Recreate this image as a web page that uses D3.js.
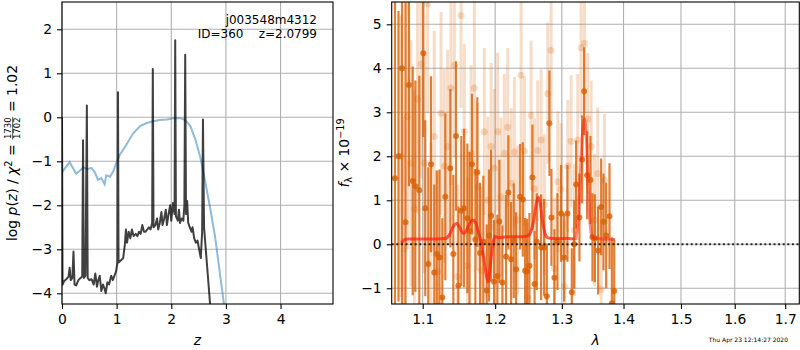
<!DOCTYPE html>
<html lang="en">
<head>
<meta charset="UTF-8">
<title>redshift fit</title>
<script src="https://cdn.jsdelivr.net/npm/d3@7"></script>
<style>
body { margin: 0; background: #fff; }
text { font-family: "DejaVu Sans"; fill: #000; }
</style>
</head>
<body>
<div id="app"></div>
<script>
// ---- left panel: log p(z) ----
var chiZ = [0.00, 0.06, 0.14, 0.20, 0.26, 0.32, 0.39, 0.46, 0.54, 0.60, 0.66, 0.72, 0.78, 0.81, 0.88, 0.94, 0.99, 1.06, 1.18, 1.30, 1.43, 1.55, 1.67, 1.79, 1.92, 2.04, 2.16, 2.25, 2.35, 2.44, 2.53, 2.62, 2.71, 2.80, 2.88, 2.97];
var chiVal = [-1.25, -1.15, -1.02, -1.15, -1.28, -1.22, -1.14, -1.18, -1.15, -1.25, -1.42, -1.38, -1.52, -1.32, -1.35, -1.22, -1.05, -0.85, -0.62, -0.37, -0.2, -0.13, -0.09, -0.06, -0.05, -0.02, -0.02, -0.06, -0.2, -0.5, -0.9, -1.45, -2.05, -2.7, -3.45, -4.3];

var pzZ = [0.00, 0.01, 0.04, 0.08, 0.12, 0.14, 0.16, 0.19, 0.21, 0.23, 0.26, 0.30, 0.34, 0.37, 0.385, 0.40, 0.43, 0.455, 0.47, 0.50,
           0.54, 0.58, 0.61, 0.64, 0.66, 0.69, 0.72, 0.75, 0.78, 0.80, 0.83, 0.86, 0.90, 0.93, 0.96, 0.99, 1.015, 1.025, 1.035, 1.08,
           1.12, 1.15, 1.17, 1.19, 1.22, 1.25, 1.28, 1.31, 1.35, 1.38, 1.41, 1.44, 1.47, 1.50, 1.53, 1.56, 1.59, 1.62, 1.65, 1.662,
           1.675, 1.71, 1.74, 1.76, 1.79, 1.82, 1.84, 1.87, 1.90, 1.92, 1.95, 1.98, 2.00, 2.03, 2.06, 2.072, 2.085, 2.12, 2.14, 2.16,
           2.19, 2.22, 2.24, 2.255, 2.27, 2.29, 2.31, 2.34, 2.37, 2.39, 2.42, 2.45, 2.48, 2.51, 2.54, 2.565, 2.58, 2.60, 2.72];
var pzVal = [0.0, -3.8, -3.72, -3.68, -3.62, -3.42, -3.7, -3.65, -3.05, -3.8, -3.82, -3.7, -3.65, -3.62, -0.52, -3.65, -3.6, 0.27, -3.65, -3.7,
             -3.68, -3.8, -3.55, -3.85, -3.72, -3.6, -3.95, -3.8, -3.9, -4.0, -3.75, -3.8, -3.6, -3.7, -3.6, -3.5, -3.3, 0.57, -3.3, -3.25,
             -3.2, -2.9, -2.55, -2.85, -2.6, -2.75, -2.55, -2.7, -2.65, -2.7, -2.6, -2.65, -2.45, -2.6, -2.6, -2.55, -2.5, -2.55, -2.4, 1.10,
             -2.5, -2.45, -2.3, -2.55, -2.4, -2.15, -2.45, -2.3, -2.1, -2.45, -2.2, -2.0, -2.35, -1.95, -2.2, 1.75, -2.25, -2.35, -2.1, -2.4,
             -2.3, -2.35, -2.0, 1.42, -2.2, -1.9, -2.4, -2.5, -2.6, -2.5, -2.75, -2.85, -2.8, -3.0, -3.2, -2.6, -0.05, -2.5, -4.4];

var zTicks = [0, 1, 2, 3, 4];
var pzTicks = [-4, -3, -2, -1, 0, 1, 2];

// ---- right panel: spectrum ----
// beam A (solid points)
var lamA = [1.0640, 1.0685, 1.0730, 1.0775, 1.0820, 1.0869, 1.0903, 1.0955, 1.1008, 1.1034, 1.1074, 1.1110, 1.1154, 1.1187, 1.1224, 1.1262,
            1.1303, 1.1371, 1.1412, 1.1449, 1.1481, 1.1522, 1.1560, 1.1606, 1.1637, 1.1671, 1.1718, 1.1745, 1.1784, 1.1831, 1.1879, 1.1912,
            1.1941, 1.1984, 1.2032, 1.2061, 1.2105, 1.2158, 1.2192, 1.2232, 1.2271, 1.2305, 1.2365, 1.2405, 1.2439, 1.2469, 1.2504, 1.2549,
            1.2582, 1.2615, 1.2681, 1.2727, 1.2768, 1.2808, 1.2839, 1.2885, 1.2932, 1.2989, 1.3036, 1.3088, 1.3157, 1.3194, 1.3225, 1.3278,
            1.3321, 1.3353, 1.3401, 1.3455, 1.3487, 1.3526, 1.3580, 1.3629, 1.3667, 1.3711, 1.3766, 1.3805, 1.3844];
var fluxA = [1.5, 2.0, 4.0, 0.5, 3.62, 1.44, 1.32, 1.23, 4.34, 0.82, -0.45, 1.82, -0.64, -0.22, -0.30, -1.21,
             1.08, 1.73, -0.22, 2.46, -0.94, 0.76, 0.82, 0.59, 0.30, 1.82, 0.11, 1.64, -0.20, 0.06, -1.05, 0.20,
             0.65, -0.85, -0.72, 0.52, -0.87, -0.28, 1.18, -0.34, 0.08, -0.57, 1.08, 1.02, -0.60, -0.62, -0.49, 1.52,
             -0.90, 0.06, -0.07, -0.07, -1.18, 2.75, 0.61, -0.76, 0.06, 0.70, -0.30, 0.70, -1.09, 0.0, 1.36, 0.61,
             1.93, 3.48, 1.57, 1.46, 0.16, 0.14, -0.14, 0.85, 0.51, 0.20, 0.64, -1.34, -1.06];
var errA = [8.0, 3.3, 6.0, 5.0, 2.3, 2.6, 2.4, 2.6, 1.9, 2.0, 2.2, 2.0, 2.0, 1.9, 2.0, 1.8,
            1.9, 1.8, 1.8, 1.7, 1.8, 1.7, 1.8, 1.7, 1.8, 1.6, 1.6, 1.7, 1.6, 1.5, 1.5, 1.5,
            1.5, 1.4, 1.4, 1.4, 1.3, 1.4, 1.3, 1.3, 1.3, 1.3, 1.2, 1.3, 1.2, 1.2, 1.2, 1.2,
            1.2, 1.1, 1.2, 1.1, 1.2, 1.2, 1.1, 1.1, 1.1, 1.1, 1.0, 1.1, 1.0, 1.0, 1.0, 1.0,
            1.0, 1.0, 1.0, 1.0, 1.0, 1.0, 1.0, 1.1, 1.1, 1.2, 1.2, 1.5, 1.2];
// beam B (faint points)
var lamB = [1.0717, 1.0759, 1.0802, 1.0846, 1.0890, 1.0933, 1.0978, 1.1021, 1.1065, 1.1110, 1.1154, 1.1199, 1.1245, 1.1289, 1.1334, 1.1380,
            1.1426, 1.1471, 1.1518, 1.1564, 1.1610, 1.1657, 1.1704, 1.1750, 1.1798, 1.1845, 1.1892, 1.1941, 1.1988, 1.2036, 1.2085, 1.2134,
            1.2182, 1.2232, 1.2280, 1.2329, 1.2380, 1.2429, 1.2478, 1.2529, 1.2579, 1.2629, 1.2681, 1.2731, 1.2782, 1.2834, 1.2885, 1.2937,
            1.2989, 1.3041, 1.3093, 1.3146, 1.3198, 1.3251, 1.3305, 1.3358, 1.3411, 1.3466, 1.3520, 1.3573, 1.3629, 1.3684];
var fluxB = [2.0, -0.1, 2.9, 1.84, 0.8, 3.3, 4.1, 1.85, 5.47, -0.09, 2.45, -0.62, 2.98, 1.78, 2.22, 3.55,
             4.07, -0.74, 5.2, 2.56, -0.49, 2.07, 3.55, 1.31, -0.6, 2.56, 1.0, 2.22, 1.73, 2.56, 1.08, 2.07,
             2.66, 1.39, 2.1, 0.55, 3.84, 2.12, -1.21, 2.93, 1.26, 2.13, 2.37, 0.9, 3.43, 4.41, -0.55, 1.42,
             1.25, -0.96, 1.78, 2.34, 0.32, 2.37, 4.47, 4.57, 2.85, 2.22, 0.55, 1.61, -1.02, 1.46];
var errB = [3.2, 3.0, 3.0, 2.8, 2.7, 2.6, 2.6, 2.5, 2.5, 2.4, 2.4, 2.3, 2.3, 2.2, 2.2, 2.2,
            2.1, 2.1, 2.1, 2.0, 2.0, 2.0, 2.0, 1.9, 1.9, 1.9, 1.9, 1.9, 1.8, 1.8, 1.8, 1.8,
            1.8, 1.7, 1.7, 1.7, 1.7, 1.7, 1.7, 1.7, 1.6, 1.6, 1.6, 1.6, 1.6, 1.6, 1.6, 1.6,
            1.5, 1.5, 1.5, 1.5, 1.5, 1.5, 1.6, 1.6, 1.5, 1.5, 1.5, 1.5, 1.5, 1.5];
// model
var modelLam1 = [1.072, 1.076, 1.080, 1.090, 1.100, 1.110, 1.120, 1.130, 1.136, 1.141, 1.146, 1.150, 1.155, 1.158, 1.163, 1.168, 1.172, 1.176,
                 1.180, 1.184, 1.188, 1.190, 1.193, 1.196, 1.200, 1.205, 1.210, 1.220, 1.230, 1.240, 1.248, 1.253, 1.257, 1.261, 1.264,
                 1.267, 1.270, 1.274, 1.278, 1.285, 1.300, 1.310, 1.320];
var modelFlux1 = [0.03, 0.10, 0.12, 0.12, 0.12, 0.12, 0.12, 0.13, 0.22, 0.40, 0.47, 0.38, 0.25, 0.28, 0.45, 0.55, 0.50, 0.28,
                  0.05, -0.35, -0.75, -0.85, -0.50, -0.05, 0.18, 0.15, 0.16, 0.17, 0.17, 0.17, 0.19, 0.30, 0.55, 0.95, 1.07,
                  0.90, 0.55, 0.25, 0.15, 0.13, 0.13, 0.13, 0.12];
var modelLam2 = [1.322, 1.326, 1.330, 1.333, 1.336, 1.339, 1.342, 1.345, 1.348, 1.355, 1.365, 1.375, 1.384];
var modelFlux2 = [0.10, 0.60, 1.80, 2.60, 2.85, 2.40, 1.30, 0.45, 0.18, 0.13, 0.12, 0.12, 0.10];

var lamTicks = [1.1, 1.2, 1.3, 1.4, 1.5, 1.6, 1.7];
var fluxTicks = [-1, 0, 1, 2, 3, 4, 5];

var width = 800;
var height = 350;
var orange = "#d95f02";

var svg = d3.select("#app")
    .append("svg")
    .attr("width", width)
    .attr("height", height);

var boxL = { left: 62, right: 333, top: 2, bottom: 304 };
var boxR = { left: 391.7, right: 799.3, top: 2, bottom: 304 };

var xL = d3.scaleLinear().domain([0, 4.96]).range([boxL.left, boxL.right]);
var yL = d3.scaleLinear().domain([-4.243, 2.62]).range([boxL.bottom, boxL.top]);
var xR = d3.scaleLog().domain([1.0598, 1.729]).range([boxR.left, boxR.right]);
var yR = d3.scaleLinear().domain([-1.357, 5.507]).range([boxR.bottom, boxR.top]);

function clip(id, b) {
    svg.append("clipPath").attr("id", id)
        .append("rect")
        .attr("x", b.left).attr("y", b.top)
        .attr("width", b.right - b.left).attr("height", b.bottom - b.top);
}
clip("clipL", boxL);
clip("clipR", boxR);

function grid(b, x, y, xt, yt) {
    var g = svg.append("g").attr("stroke", "#b0b0b0").attr("stroke-width", 1.1);
    g.selectAll(".gx").data(xt).enter().append("line")
        .attr("x1", function (d) { return x(d); }).attr("x2", function (d) { return x(d); })
        .attr("y1", b.top).attr("y2", b.bottom);
    g.selectAll(".gy").data(yt).enter().append("line")
        .attr("y1", function (d) { return y(d); }).attr("y2", function (d) { return y(d); })
        .attr("x1", b.left).attr("x2", b.right);
}

function axes(b, x, y, xt, yt, xfmt, yfmt) {
    var ax = svg.append("g").attr("transform", "translate(0," + b.bottom + ")")
        .call(d3.axisBottom(x).tickValues(xt).tickFormat(xfmt).tickSize(5).tickPadding(5));
    var ay = svg.append("g").attr("transform", "translate(" + b.left + ",0)")
        .call(d3.axisLeft(y).tickValues(yt).tickFormat(yfmt).tickSize(5).tickPadding(5));
    [ax, ay].forEach(function (a) {
        a.select(".domain").remove();
        a.selectAll("text").style("font-size", "13.9px").style("font-family", "DejaVu Sans");
        a.selectAll("line").attr("stroke-width", 1.1);
    });
    svg.append("rect")
        .attr("x", b.left).attr("y", b.top)
        .attr("width", b.right - b.left).attr("height", b.bottom - b.top)
        .attr("fill", "none").attr("stroke", "#000").attr("stroke-width", 1.1);
}

var intFmt = d3.format("d");
var minusFmt = function (d) { return d < 0 ? "\u2212" + Math.abs(d) : "" + d; };

// ---- left panel ----
grid(boxL, xL, yL, zTicks, pzTicks);
var gL = svg.append("g").attr("clip-path", "url(#clipL)");

var lineL = d3.line()
    .x(function (d) { return xL(d[0]); })
    .y(function (d) { return yL(d[1]); });

gL.append("path")
    .datum(d3.zip(chiZ, chiVal))
    .attr("d", lineL)
    .attr("fill", "none")
    .attr("stroke", "#1f77b4").attr("stroke-opacity", 0.5)
    .attr("stroke-width", 2);

gL.append("path")
    .datum(d3.zip(pzZ, pzVal))
    .attr("d", lineL)
    .attr("fill", "none")
    .attr("stroke", "#000").attr("stroke-opacity", 0.75)
    .attr("stroke-width", 2)
    .attr("stroke-linejoin", "round");

axes(boxL, xL, yL, zTicks, pzTicks, intFmt, minusFmt);

svg.append("text").attr("x", 317).attr("y", 24).attr("text-anchor", "end")
    .style("font-size", "12px").text("j003548m4312");
svg.append("text").attr("x", 317).attr("y", 38).attr("text-anchor", "end")
    .style("font-size", "12px").style("white-space", "pre").text("ID=360    z=2.0799");

// ---- right panel ----
grid(boxR, xR, yR, lamTicks, fluxTicks);
var gR = svg.append("g").attr("clip-path", "url(#clipR)");

function spectrum(lam, flux, err, alpha, lw, r) {
    var pts = d3.zip(lam, flux, err);
    var g = gR.append("g");
    g.selectAll("line").data(pts).enter().append("line")
        .attr("x1", function (d) { return xR(d[0]); })
        .attr("x2", function (d) { return xR(d[0]); })
        .attr("y1", function (d) { return yR(d[1] - d[2]); })
        .attr("y2", function (d) { return yR(d[1] + d[2]); })
        .attr("stroke", orange).attr("stroke-opacity", alpha)
        .attr("stroke-width", lw);
    g.selectAll("circle").data(pts).enter().append("circle")
        .attr("cx", function (d) { return xR(d[0]); })
        .attr("cy", function (d) { return yR(d[1]); })
        .attr("r", r)
        .attr("fill", orange).attr("fill-opacity", alpha);
}
spectrum(lamB, fluxB, errB, 0.22, 3, 3.5);
spectrum(lamA, fluxA, errA, 0.8, 2.2, 3);

var lineR = d3.line()
    .curve(d3.curveMonotoneX)
    .x(function (d) { return xR(d[0]); })
    .y(function (d) { return yR(d[1]); });

gR.append("path").datum(d3.zip(modelLam1, modelFlux1)).attr("d", lineR)
    .attr("fill", "none").attr("stroke", "#ff1a0a").attr("stroke-opacity", 0.7)
    .attr("stroke-width", 3);
gR.append("path").datum(d3.zip(modelLam2, modelFlux2)).attr("d", lineR)
    .attr("fill", "none").attr("stroke", "#ff1a0a").attr("stroke-opacity", 0.5)
    .attr("stroke-width", 3);

gR.append("line")
    .attr("x1", boxR.left).attr("x2", boxR.right)
    .attr("y1", yR(0)).attr("y2", yR(0))
    .attr("stroke", "#000").attr("stroke-opacity", 0.8)
    .attr("stroke-width", 2).attr("stroke-dasharray", "2,2.6");

axes(boxR, xR, yR, lamTicks, fluxTicks, d3.format(".1f"), minusFmt);

// ---- axis labels ----
svg.append("text").attr("x", (boxL.left + boxL.right) / 2).attr("y", 345)
    .attr("text-anchor", "middle").style("font-size", "13.9px").style("font-style", "italic").text("z");
svg.append("text").attr("x", (boxR.left + boxR.right) / 2).attr("y", 345)
    .attr("text-anchor", "middle").style("font-size", "13.9px").style("font-style", "italic").text("\u03bb");

function mathLabel(cx, cy, runs) {
    var g = svg.append("g");
    var x = 0;
    runs.forEach(function (r) {
        if (r.frac) {
            var n = g.append("text").attr("y", -5.8).style("font-size", "8.5px").text(r.frac[0]);
            var d = g.append("text").attr("y", 2.8).style("font-size", "8.5px").text(r.frac[1]);
            var wn = n.node().getComputedTextLength();
            var wd = d.node().getComputedTextLength();
            var w = Math.max(wn, wd);
            n.attr("x", x + 1 + (w - wn) / 2);
            d.attr("x", x + 1 + (w - wd) / 2);
            g.append("line").attr("x1", x + 0.5).attr("x2", x + w + 1.5)
                .attr("y1", -4.3).attr("y2", -4.3)
                .attr("stroke", "#000").attr("stroke-width", 0.7);
            x += w + 2;
        } else {
            var t = g.append("text").attr("x", x).attr("y", r.dy || 0)
                .style("font-size", (r.size || 13.9) + "px")
                .style("font-style", r.it ? "italic" : "normal")
                .text(r.t);
            x += t.node().getComputedTextLength();
        }
    });
    g.attr("transform", "translate(" + cx + "," + (cy + x / 2) + ") rotate(-90)");
}

var sp = "\u00a0";
mathLabel(17, 153, [
    { t: "log" + sp }, { t: "p", it: true }, { t: "(" }, { t: "z", it: true }, { t: ")" + sp + "/" + sp },
    { t: "\u03c7", it: true }, { t: "2", size: 9.7, dy: -5.5 }, { t: sp + "=" + sp },
    { frac: ["1730", "1702"] }, { t: sp + "=" + sp + "1.02" }
]);
mathLabel(349, 153, [
    { t: "f", it: true }, { t: "\u03bb", size: 9.7, dy: 3 }, { t: sp + "\u00d7" + sp + "10" },
    { t: "\u221219", size: 9.7, dy: -5.5 }
]);

svg.append("text").attr("x", 788).attr("y", 342).attr("text-anchor", "end")
    .style("font-size", "6px").text("Thu Apr 23 12:14:27 2020");
</script>
</body>
</html>
